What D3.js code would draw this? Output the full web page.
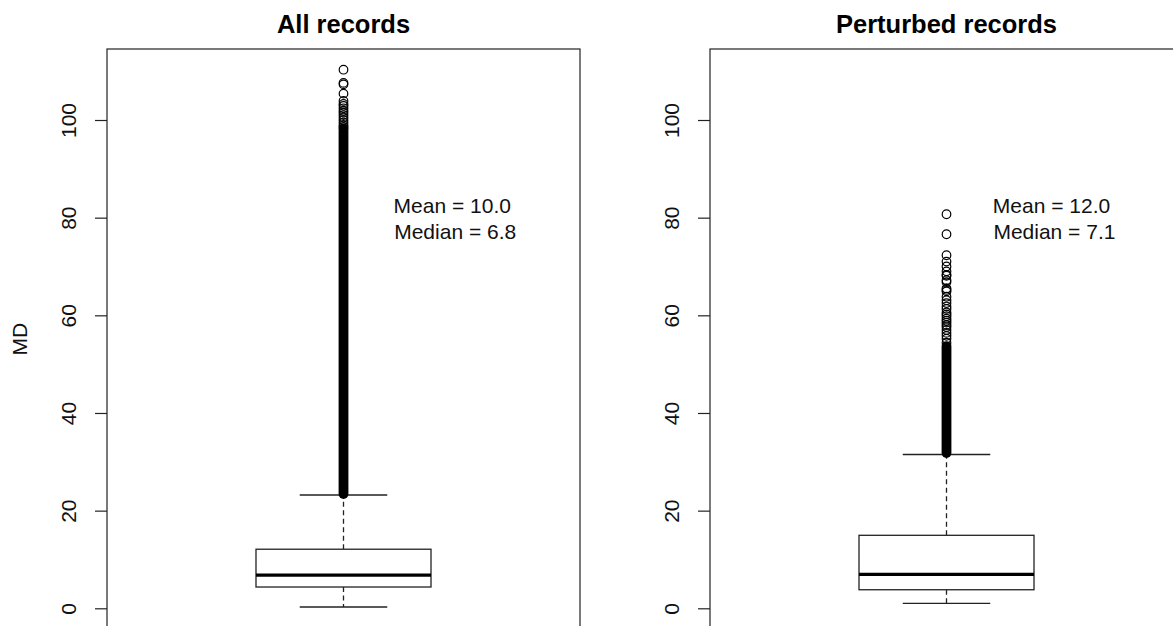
<!DOCTYPE html>
<html>
<head>
<meta charset="utf-8">
<script src="https://cdn.jsdelivr.net/npm/d3@7"></script>
<style>
  html, body { margin: 0; padding: 0; background: #fff; }
  svg { display: block; font-family: "Liberation Sans", Arial, sans-serif; }
</style>
</head>
<body>
<svg id="chart" width="1173" height="626"></svg>
<script>
// box statistics, one entry per panel
const panels = ["All records", "Perturbed records"];
const whiskerLow = [0.27, 1.0];
const q1 = [4.36, 3.8];
const median = [6.8, 6.95];
const q3 = [12.1, 14.95];
const whiskerHigh = [23.2, 31.5];

// single outliers that are still visible as circles
const outliersAll = [110.3, 107.6, 107.3, 105.4, 103.9, 103.3, 102.9, 102.4, 101.9,
  101.5, 101.0, 100.5, 100.0, 99.5, 99.0, 98.6];
const outliersPerturbed = [80.7, 76.6, 72.3, 71.0, 70.0, 69.0, 68.3, 68.1, 67.2, 66.8,
  65.5, 65.2, 64.9, 63.8, 63.1, 62.5, 61.8, 61.3, 60.6, 60.2, 59.8, 59.3, 58.9, 58.5,
  58.0, 57.6, 57.0, 56.4, 55.8, 55.2, 54.4];
// value ranges where the outlier circles overlap into a solid column
const denseAll = [[23.4, 98.3]];
const densePerturbed = [[31.8, 53.7]];

const meanLabels = ["Mean = 10.0", "Mean = 12.0"];
const medianLabels = ["\u00A0Median = 6.8", "\u00A0Median = 7.1"];
const annotX = [1.23, 1.222];
const annotY = [80, 80];
const yTicks = [0, 20, 40, 60, 80, 100];
const yLabel = "MD";

const outliers = [outliersAll, outliersPerturbed];
const dense = [denseAll, densePerturbed];

const svg = d3.select("#chart");
const plotLeft = [107, 710];
const plotW = 473;
const plotTop = 49, plotBottom = 629.3;

const y = d3.scaleLinear().domain([-4.3, 114.54]).range([plotBottom, plotTop]);

const r = 4.3;
const boxHalf = 0.185;

panels.forEach((title, i) => {
  const x = d3.scaleLinear().domain([0.5, 1.5]).range([plotLeft[i], plotLeft[i] + plotW]);
  const g = svg.append("g");
  const cx = x(1);

  // frame
  g.append("rect")
    .attr("x", x(0.5)).attr("y", plotTop)
    .attr("width", plotW).attr("height", plotBottom - plotTop)
    .attr("fill", "none").attr("stroke", "#222").attr("stroke-width", 1.2);

  // y axis
  const ax = g.append("g")
    .attr("transform", "translate(" + x(0.5) + ",0)")
    .call(d3.axisLeft(y).tickValues(yTicks).tickSize(12).tickFormat(d3.format("d")));
  ax.select(".domain").remove();
  ax.selectAll(".tick line").attr("stroke", "#222").attr("stroke-width", 1.2);
  ax.selectAll(".tick text")
    .attr("transform", "rotate(-90)")
    .attr("x", 0).attr("y", -31).attr("dy", 0)
    .attr("text-anchor", "middle")
    .attr("font-size", "21px").attr("fill", "#111")
    .attr("font-family", "Liberation Sans, Arial, sans-serif");

  // title
  g.append("text")
    .attr("x", cx).attr("y", 33)
    .attr("text-anchor", "middle")
    .attr("font-size", "25.5px").attr("font-weight", "bold")
    .text(title);

  // whiskers
  const dash = "5,3.5";
  g.append("line")
    .attr("x1", cx).attr("x2", cx).attr("y1", y(q3[i])).attr("y2", y(whiskerHigh[i]))
    .attr("stroke", "#222").attr("stroke-width", 1.3).attr("stroke-dasharray", dash);
  g.append("line")
    .attr("x1", cx).attr("x2", cx).attr("y1", y(q1[i])).attr("y2", y(whiskerLow[i]))
    .attr("stroke", "#222").attr("stroke-width", 1.3).attr("stroke-dasharray", dash);
  [whiskerLow[i], whiskerHigh[i]].forEach(v => {
    g.append("line")
      .attr("x1", x(1 - boxHalf / 2)).attr("x2", x(1 + boxHalf / 2))
      .attr("y1", y(v)).attr("y2", y(v))
      .attr("stroke", "#222").attr("stroke-width", 1.3);
  });

  // box
  g.append("rect")
    .attr("x", x(1 - boxHalf)).attr("y", y(q3[i]))
    .attr("width", x(1 + boxHalf) - x(1 - boxHalf))
    .attr("height", y(q1[i]) - y(q3[i]))
    .attr("fill", "#fff").attr("stroke", "#222").attr("stroke-width", 1.3);
  g.append("line")
    .attr("x1", x(1 - boxHalf)).attr("x2", x(1 + boxHalf))
    .attr("y1", y(median[i])).attr("y2", y(median[i]))
    .attr("stroke", "#000").attr("stroke-width", 3.4);

  // dense outlier columns
  const rr = r + 0.6;
  g.selectAll(".dense").data(dense[i]).enter().append("rect")
    .attr("x", cx - rr).attr("width", rr * 2)
    .attr("y", d => y(d[1]) - rr)
    .attr("height", d => y(d[0]) - y(d[1]) + rr * 2)
    .attr("rx", rr).attr("fill", "#000");

  // outlier circles
  g.selectAll(".out").data(outliers[i]).enter().append("circle")
    .attr("cx", cx).attr("cy", d => y(d)).attr("r", r)
    .attr("fill", "none").attr("stroke", "#000").attr("stroke-width", 1.2);

  // annotation
  const t = g.append("text")
    .attr("text-anchor", "middle")
    .attr("font-size", "21px").attr("fill", "#111");
  t.append("tspan").attr("x", x(annotX[i])).attr("y", y(annotY[i]) - 5).text(meanLabels[i]);
  t.append("tspan").attr("x", x(annotX[i])).attr("y", y(annotY[i]) + 21).text(medianLabels[i]);
});

// y label
svg.append("text")
  .attr("transform", "translate(27," + ((plotTop + plotBottom) / 2) + ") rotate(-90)")
  .attr("text-anchor", "middle")
  .attr("font-size", "21px").attr("fill", "#111")
  .text(yLabel);
</script>
</body>
</html>
